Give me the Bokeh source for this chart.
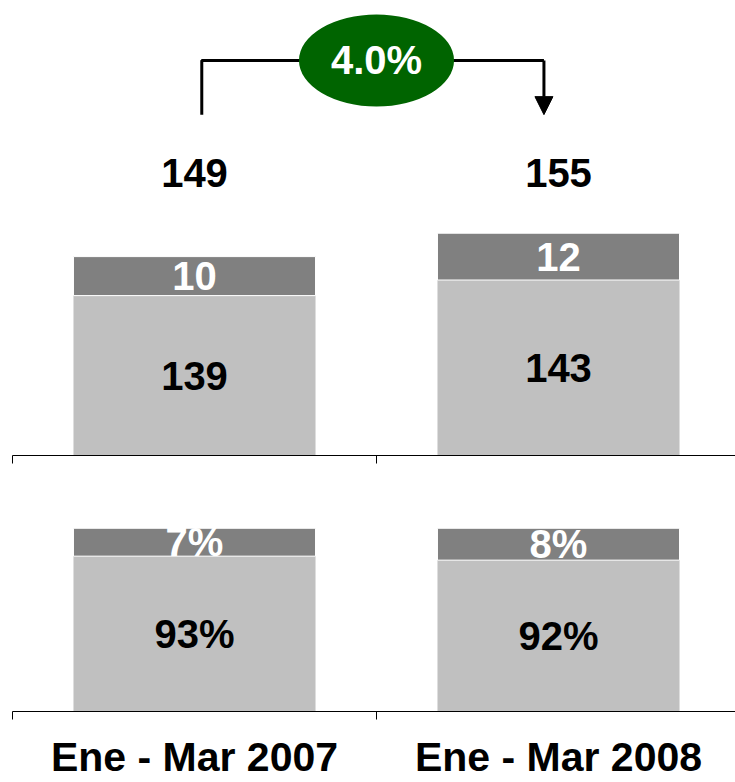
from bokeh.plotting import figure
from bokeh.layouts import column
from bokeh.models import ColumnDataSource, LinearAxis, FixedTicker, Range1d, Arrow, NormalHead
from bokeh.core.properties import value
from bokeh.embed import file_html
from bokeh.resources import INLINE

# ---------------- data ----------------
categories = ["Ene - Mar 2007", "Ene - Mar 2008"]
base_values = [139, 143]
top_values = [10, 12]
base_shares = [93, 92]
top_shares = [7, 8]

# ---------------- style ----------------
FONT = "Liberation Sans"
LIGHT = "#C0C0C0"
DARK = "#808080"
GREEN = "#006400"
FS = "40px"

xs = [i + 0.5 for i in range(len(categories))]
totals = [b + t for b, t in zip(base_values, top_values)]
growth = (totals[1] / totals[0] - 1) * 100

W = 735
X_END = 723 / 364
BAR_W = 0.665

TOP_PAD = 8
TOP_FRAME = 447
TOP_BORDER = 14
TOP_Y0 = 98
TOP_Y1 = TOP_Y0 + TOP_FRAME / 3.9

BOT_FRAME = 243
BOT_BORDER = 70
BOT_Y0 = 54
BOT_Y1 = BOT_Y0 + BOT_FRAME / 4.0


def base_fig(h, y0, y1, border_top, border_bottom):
    p = figure(width=W, height=h, x_range=Range1d(0, X_END), y_range=Range1d(y0, y1),
               x_axis_location=None, y_axis_location=None, toolbar_location=None,
               output_backend="svg", min_border_left=12, min_border_right=0,
               min_border_top=border_top, min_border_bottom=border_bottom)
    p.outline_line_color = None
    p.grid.visible = False
    p.background_fill_color = "white"
    p.border_fill_color = "white"
    return p


def add_axis(p, show_labels):
    ticks = xs if show_labels else []
    ax = LinearAxis(ticker=FixedTicker(ticks=ticks, minor_ticks=[0, 1, 2]))
    ax.major_tick_line_color = None
    ax.minor_tick_out = 8
    ax.minor_tick_in = 0
    ax.minor_tick_line_color = "black"
    ax.axis_line_color = "black"
    ax.axis_line_width = 1
    if show_labels:
        ax.major_label_overrides = {x: c for x, c in zip(xs, categories)}
        ax.major_label_text_font = FONT
        ax.major_label_text_font_style = "bold"
        ax.major_label_text_font_size = "41px"
        ax.major_label_text_color = "black"
        ax.major_label_standoff = 14
    p.add_layout(ax, "below")


def text(p, x, y, labels, color):
    p.text(x=x, y=y, text=labels, text_font=value(FONT), text_font_style="bold",
           text_font_size=FS, text_color=color, text_align="center", text_baseline="middle")


# ---------------- top panel: absolute values ----------------
top = base_fig(TOP_PAD + TOP_FRAME + TOP_BORDER, TOP_Y0, TOP_Y1, TOP_PAD, TOP_BORDER)
src = ColumnDataSource(dict(x=xs, base=base_values, tot=totals))
top.vbar(x="x", bottom=0, top="base", width=BAR_W, source=src, fill_color=LIGHT, line_color=None)
top.vbar(x="x", bottom="base", top="tot", width=BAR_W, source=src, fill_color=DARK,
         line_color="white", line_width=1)
text(top, xs, [(TOP_Y0 + b) / 2 for b in base_values], [str(v) for v in base_values], "black")
text(top, xs, [(b + t) / 2 for b, t in zip(base_values, totals)], [str(v) for v in top_values], "white")
text(top, xs, [170.5] * len(xs), [str(v) for v in totals], "black")

# growth bracket
y_br = 199.3
y_low = 185.4
xl = xs[0] + 0.02
xr = xs[1] - 0.04
top.line(x=[xl, xl, xr], y=[y_low, y_br, y_br], line_color="black", line_width=3)
top.add_layout(Arrow(end=NormalHead(size=18, fill_color="black", line_color="black"),
                     x_start=xr, y_start=y_br, x_end=xr, y_end=y_low,
                     line_color="black", line_width=3))
xm = (xs[0] + xs[1]) / 2
top.ellipse(x=[xm], y=[y_br], width=0.426, height=23.6, fill_color=GREEN, line_color=None)
text(top, [xm], [y_br], [f"{growth:.1f}%"], "white")
add_axis(top, False)

# ---------------- bottom panel: shares ----------------
bot = base_fig(BOT_FRAME + BOT_BORDER, BOT_Y0, BOT_Y1, 0, BOT_BORDER)
src2 = ColumnDataSource(dict(x=xs, base=base_shares, tot=[b + t for b, t in zip(base_shares, top_shares)]))
bot.vbar(x="x", bottom=0, top="base", width=BAR_W, source=src2, fill_color=LIGHT, line_color=None)
bot.vbar(x="x", bottom="base", top="tot", width=BAR_W, source=src2, fill_color=DARK,
         line_color="white", line_width=1)
text(bot, xs, [(BOT_Y0 + b) / 2 for b in base_shares], [f"{v}%" for v in base_shares], "black")
text(bot, xs, [b + t / 2 for b, t in zip(base_shares, top_shares)], [f"{v}%" for v in top_shares], "white")
add_axis(bot, True)

layout = column(top, bot, spacing=0)
open("out.html", "w").write(file_html(layout, INLINE))
